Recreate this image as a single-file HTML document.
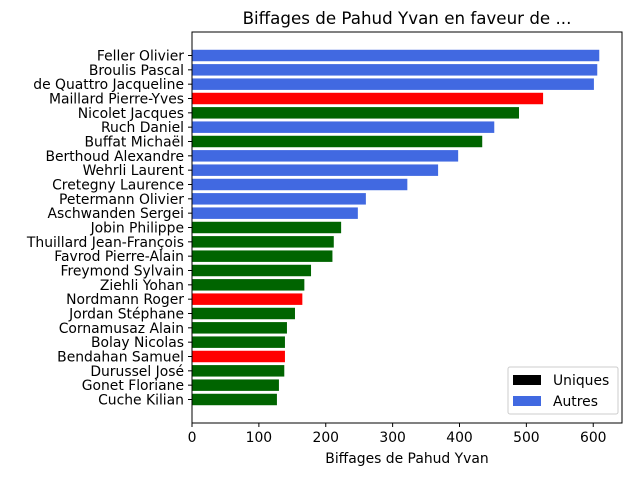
<!DOCTYPE html>
<html><head><meta charset="utf-8"><style>
body{margin:0;background:#fff;}
svg text{font-family:"DejaVu Sans","Liberation Sans",sans-serif;}
</style></head><body>
<svg id="chart" width="640" height="480">
<text x="407" y="24" text-anchor="middle" font-size="16.7">Biffages de Pahud Yvan en faveur de ...</text>
<g id="bars"></g><g id="yticks"></g><g id="xticks"></g>
<rect x="192" y="32" width="430" height="391" fill="none" stroke="#000" stroke-width="1"/>
<text x="407" y="463" text-anchor="middle" font-size="13.9">Biffages de Pahud Yvan</text>
<g>
<rect x="508" y="367" width="110" height="47" fill="#fff" fill-opacity="0.8" stroke="#ccc" rx="2"/>
<rect x="513" y="375" width="28" height="10" fill="#000"/>
<text x="553" y="385" font-size="13.9">Uniques</text>
<rect x="513" y="396" width="28" height="10" fill="#4169e1"/>
<text x="553" y="406" font-size="13.9">Autres</text>
</g>
</svg>
<script>
const names=["Feller Olivier","Broulis Pascal","de Quattro Jacqueline","Maillard Pierre-Yves","Nicolet Jacques","Ruch Daniel","Buffat Michaël","Berthoud Alexandre","Wehrli Laurent","Cretegny Laurence","Petermann Olivier","Aschwanden Sergei","Jobin Philippe","Thuillard Jean-François","Favrod Pierre-Alain","Freymond Sylvain","Ziehli Yohan","Nordmann Roger","Jordan Stéphane","Cornamusaz Alain","Bolay Nicolas","Bendahan Samuel","Durussel José","Gonet Floriane","Cuche Kilian"];
const values=[609,606,601,525,489,452,434,398,368,322,260,248,223,212,210,178,168,165,154,142,139,139,138,130,127];
const colors=["#4169e1","#4169e1","#4169e1","#ff0000","#006400","#4169e1","#006400","#4169e1","#4169e1","#4169e1","#4169e1","#4169e1","#006400","#006400","#006400","#006400","#006400","#ff0000","#006400","#006400","#006400","#ff0000","#006400","#006400","#006400"];
const xTicks=[0,100,200,300,400,500,600];
const NS="http://www.w3.org/2000/svg";
const x0=192,pxPer=430/643;
const xs=v=>x0+v*pxPer;
const n=names.length;
const plotTop=32,plotH=391,range=(n-1)+0.8,pad=range*0.05,unit=plotH/(range+2*pad);
const ys=i=>plotTop+(pad+0.4+i)*unit;
const bars=document.getElementById('bars'),yt=document.getElementById('yticks'),xt=document.getElementById('xticks');
names.forEach((nm,i)=>{
 const r=document.createElementNS(NS,'rect');
 r.setAttribute('x',x0);r.setAttribute('y',ys(i)-0.4*unit);
 r.setAttribute('width',xs(values[i])-x0);r.setAttribute('height',0.8*unit);
 r.setAttribute('fill',colors[i]);
 
 
 bars.appendChild(r);
 const l=document.createElementNS(NS,'line');
 l.setAttribute('x1',x0-4);l.setAttribute('x2',x0);l.setAttribute('y1',ys(i));l.setAttribute('y2',ys(i));l.setAttribute('stroke','#000');
 
 
 yt.appendChild(l);
 const t=document.createElementNS(NS,'text');
 t.setAttribute('x',x0-8);t.setAttribute('y',ys(i)+5);t.setAttribute('text-anchor','end');t.setAttribute('font-size','13.9');
 t.textContent=nm;
 
 
 yt.appendChild(t);
});
xTicks.forEach(v=>{
 const l=document.createElementNS(NS,'line');
 l.setAttribute('x1',xs(v));l.setAttribute('x2',xs(v));l.setAttribute('y1',423);l.setAttribute('y2',427);l.setAttribute('stroke','#000');
 
 
 xt.appendChild(l);
 const t=document.createElementNS(NS,'text');
 t.setAttribute('x',xs(v));t.setAttribute('y',442);t.setAttribute('text-anchor','middle');t.setAttribute('font-size','13.9');
 t.textContent=v;
 
 
 xt.appendChild(t);
});
</script>
</body></html>
